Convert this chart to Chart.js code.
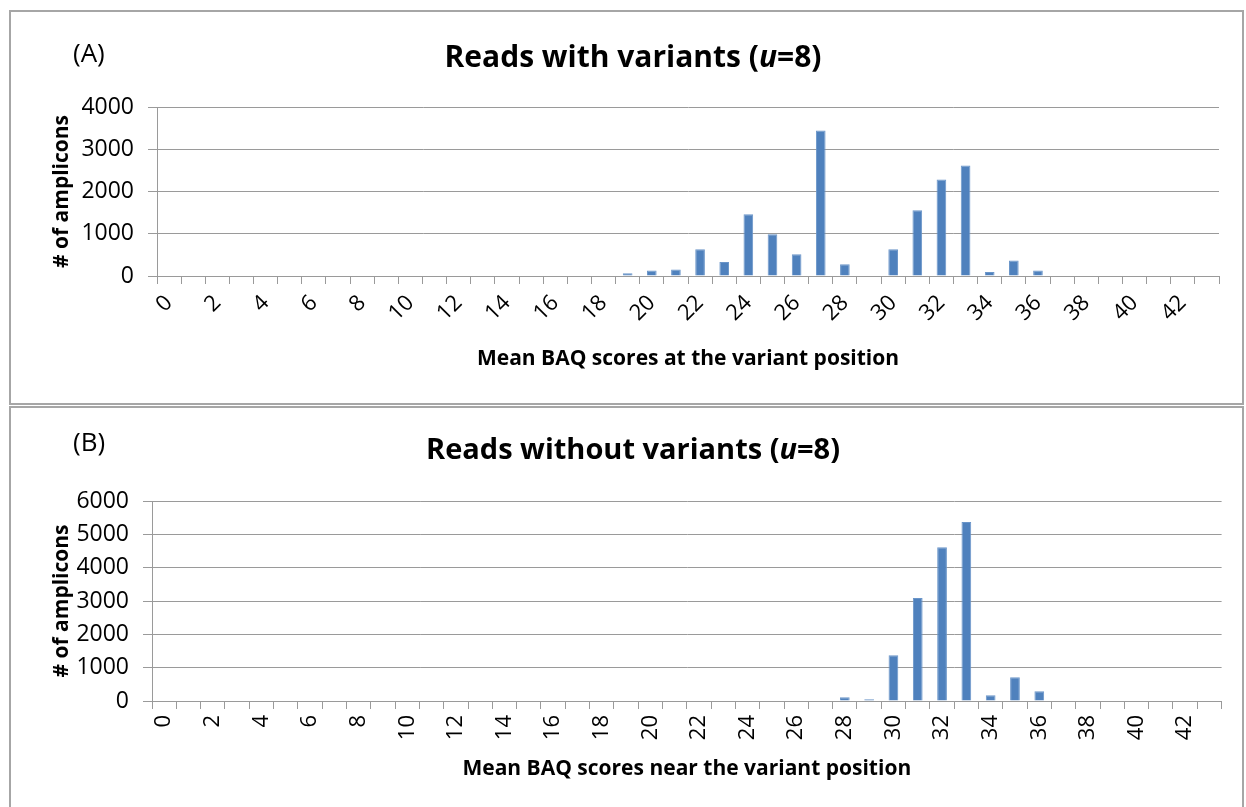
<!DOCTYPE html>
<html lang="en">
<head>
    <meta charset="UTF-8">
    <title>Mean BAQ scores</title>
    <script src="https://cdn.jsdelivr.net/npm/chart.js"></script>
    <style>
        body { margin: 0; background: #fff; overflow: hidden; }
        .box { position: absolute; left: 9px; width: 1231px; border: 2px solid #a6a6a6; background: #fff; }
        #boxA { top: 10px; height: 391px; }
        #boxB { top: 406px; height: 400px; }
    </style>
</head>
<body>
    <div class="box" id="boxA"><canvas id="chartA"></canvas></div>
    <div class="box" id="boxB"><canvas id="chartB"></canvas></div>
    <script>
        // BAQ score categories 0..43
        const scores = ["0","1","2","3","4","5","6","7","8","9","10","11","12","13","14","15","16","17","18","19","20","21",
                        "22","23","24","25","26","27","28","29","30","31","32","33","34","35","36","37","38","39","40","41","42","43"];

        // (A) reads with variants, # of amplicons per score
        const withVariants = [0,0,0,0,0,0,0,0,0,0,0,0,0,0,0,0,0,0,0,
                              64,128,151,632,331,1460,987,514,3441,277,0,632,1555,2282,2613,95,365,128,
                              0,0,0,0,0,0,0];

        // (B) reads without variants
        const withoutVariants = [0,0,0,0,0,0,0,0,0,0,0,0,0,0,0,0,0,0,0,0,0,0,0,0,0,0,0,0,
                                 110,50,1370,3090,4610,5370,170,710,290,
                                 0,0,0,0,0,0,0];

        const yTicksA = [0, 1000, 2000, 3000, 4000];
        const yTicksB = [0, 1000, 2000, 3000, 4000, 5000, 6000];

        const FONT = '"Open Sans", "Liberation Sans", sans-serif';
        const GRID = '#9a9a9a';

        // panel letter, title (with italic u), axis titles
        const panelText = {
            id: 'panelText',
            afterDraw(chart, args, o) {
                const ctx = chart.ctx;
                const area = chart.chartArea;
                ctx.save();
                ctx.fillStyle = '#000';
                ctx.textBaseline = 'middle';

                ctx.font = '26px ' + FONT;
                ctx.textAlign = 'left';
                ctx.fillText(o.letter, o.letterX, o.letterY);

                const sz = o.titleSize + 'px ';
                const parts = [[o.title, 'bold ' + sz], ['u', 'italic bold ' + sz], ['=8)', 'bold ' + sz]];
                let total = 0;
                parts.forEach(p => { ctx.font = p[1] + FONT; total += ctx.measureText(p[0]).width; });
                let x = o.titleX - total / 2;
                parts.forEach(p => {
                    ctx.font = p[1] + FONT;
                    ctx.fillText(p[0], x, o.titleY);
                    x += ctx.measureText(p[0]).width;
                });

                ctx.font = 'bold 21px ' + FONT;
                ctx.textAlign = 'center';
                ctx.fillText(o.xTitle, (area.left + area.right) / 2, o.xTitleY);

                ctx.translate(o.yTitleX, (area.top + area.bottom) / 2);
                ctx.rotate(-Math.PI / 2);
                ctx.fillText('# of amplicons', 0, 0);
                ctx.restore();
            }
        };

        function makeChart(id, values, yTicks, rot, box, text) {
            const yMax = yTicks[yTicks.length - 1];
            return new Chart(document.getElementById(id), {
                type: 'bar',
                data: {
                    labels: scores,
                    datasets: [{
                        data: values,
                        backgroundColor: '#4F81BD',
                        borderColor: '#6a95c9',
                        borderWidth: 1,
                        barPercentage: 0.4,
                        categoryPercentage: 1.0
                    }]
                },
                options: {
                    responsive: true,
                    maintainAspectRatio: false,
                    animation: false,
                    devicePixelRatio: 1,
                    layout: { padding: { top: box.top, right: box.right, left: 0, bottom: 0 } },
                    plugins: {
                        legend: { display: false },
                        tooltip: { enabled: false },
                        panelText: text
                    },
                    scales: {
                        x: {
                            grid: { drawOnChartArea: false, drawTicks: true, tickLength: 8, color: GRID, offset: true },
                            border: { color: GRID, width: 1 },
                            ticks: {
                                autoSkip: false,
                                minRotation: rot,
                                maxRotation: rot,
                                padding: box.xPad,
                                color: '#000',
                                font: { family: FONT, size: 22 },
                                callback: (v, i) => (i % 2 === 0 ? scores[i] : '')
                            },
                            afterFit: s => { s.height = box.xHeight; }
                        },
                        y: {
                            min: 0,
                            max: yMax,
                            afterBuildTicks: s => { s.ticks = yTicks.map(v => ({ value: v })); },
                            grid: { color: GRID, tickLength: 9, lineWidth: 1 },
                            border: { color: GRID, width: 1 },
                            ticks: {
                                padding: 14,
                                color: '#000',
                                font: { family: FONT, size: 23 },
                                callback: v => String(v)
                            },
                            afterFit: s => { s.width = box.yWidth; }
                        }
                    }
                },
                plugins: [panelText]
            });
        }

        makeChart('chartA', withVariants, yTicksA, 45,
            { top: 95, right: 23, xHeight: 127, yWidth: 146, xPad: 6 },
            { letter: '(A)', letterX: 62, letterY: 43, title: 'Reads with variants (', titleSize: 30, titleX: 622, titleY: 46,
              xTitle: 'Mean BAQ scores at the variant position', xTitleY: 347, yTitleX: 51 });

        makeChart('chartB', withoutVariants, yTicksB, 90,
            { top: 93, right: 13, xHeight: 107, yWidth: 141, xPad: 6 },
            { letter: '(B)', letterX: 62, letterY: 36, title: 'Reads without variants (', titleSize: 29, titleX: 622, titleY: 43,
              xTitle: 'Mean BAQ scores near the variant position', xTitleY: 361, yTitleX: 51 });
    </script>
</body>
</html>
